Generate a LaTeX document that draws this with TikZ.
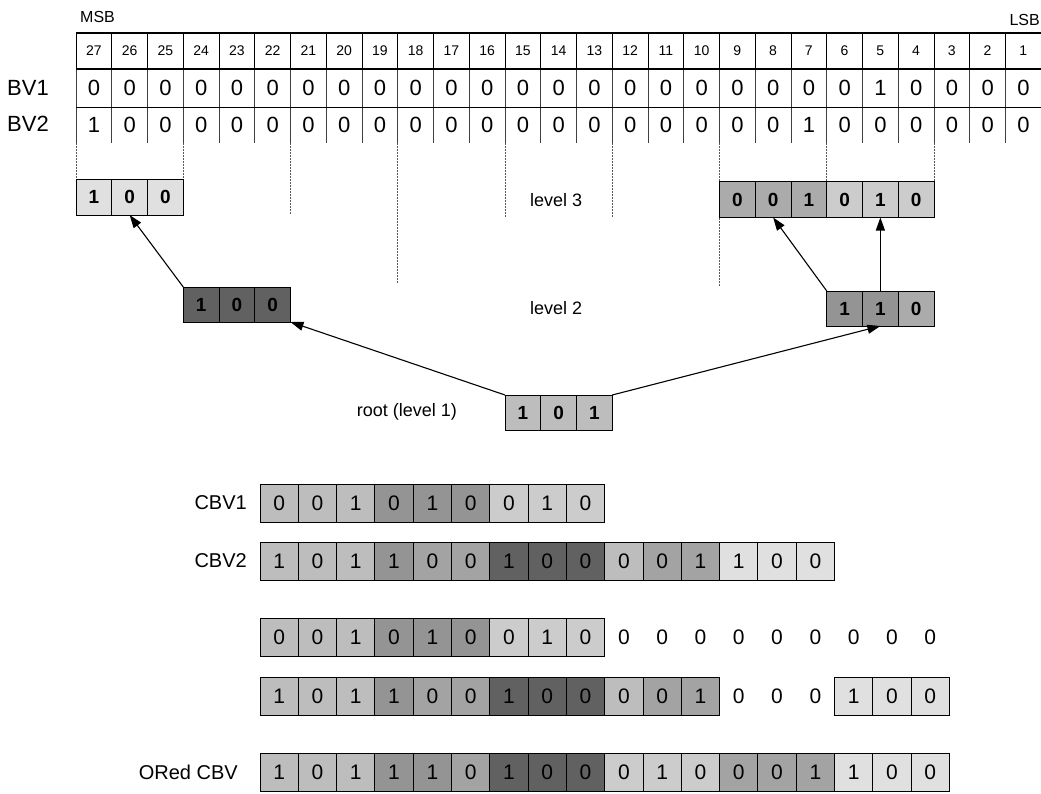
\documentclass[tikz,border=0pt]{standalone}
\usepackage{fontspec}
\setmainfont{Liberation Sans}
\usetikzlibrary{arrows.meta}
\colorlet{g12}{black!12}
\colorlet{g20}{black!20}
\colorlet{g25}{black!26}
\colorlet{g33}{black!33}
\colorlet{g35}{black!36}
\colorlet{g40}{black!42}
\colorlet{g62}{black!62}
\begin{document}
\begin{tikzpicture}[x=1pt,y=-1pt,
  cell/.style={draw=black, line width=0.9pt, minimum width=35.75pt, minimum height=36pt, inner sep=0pt, outer sep=0pt, font=\fontsize{19}{19}\selectfont\bfseries},
  cbv/.style={draw=black, line width=0.9pt, minimum width=38.3pt, minimum height=38pt, inner sep=0pt, outer sep=0pt, font=\fontsize{21}{21}\selectfont},
  zero/.style={inner sep=0pt, font=\fontsize{21}{21}\selectfont},
  hdr/.style={inner sep=0pt, font=\fontsize{14}{14}\selectfont},
  bvd/.style={inner sep=0pt, font=\fontsize{22}{22}\selectfont},
  lab/.style={inner sep=0pt, font=\fontsize{18}{18}\selectfont},
  biglab/.style={inner sep=0pt, font=\fontsize{21}{21}\selectfont},
  arr/.style={-{Triangle[length=13pt,width=9pt]}, line width=1.1pt},
  dotline/.style={black!65, line width=0.8pt, dash pattern=on 1.5pt off 1.5pt}
]
\useasboundingbox (0,0) rectangle (1041,793);
% ---------- top table ----------
\node[lab, anchor=west, font=\fontsize{16}{16}\selectfont] (msb) at (80,17) {MSB};
\node[lab, anchor=east, font=\fontsize{16}{16}\selectfont] (lsb) at (1040,20) {LSB};
\node[biglab, anchor=west, font=\fontsize{22}{22}\selectfont] (bv1) at (7,88) {BV1};
\node[biglab, anchor=west, font=\fontsize{22}{22}\selectfont] (bv2) at (7,124) {BV2};
\foreach \k in {0,...,26}{
  \pgfmathtruncatemacro\n{27-\k}
  \pgfmathtruncatemacro\a{ifthenelse(\n==5,1,0)}
  \pgfmathtruncatemacro\b{ifthenelse(or(\n==27,\n==7),1,0)}
  \node[hdr] (h\n) at ({76+35.75*(\k+0.5)},51) {\n};
  \node[bvd] (bva\n) at ({76+35.75*(\k+0.5)},88) {\a};
  \node[bvd] (bvb\n) at ({76+35.75*(\k+0.5)},125) {\b};
  \draw[line width=1pt] ({76+35.75*\k},33) -- ({76+35.75*\k},69);
  \draw[black!75, line width=0.9pt] ({76+35.75*\k},69) -- ({76+35.75*\k},143);
}
\draw[line width=1.4pt] (76,33) -- (1041,33);
\draw[line width=2.2pt] (76,69) -- (1041,69);
\draw[line width=1pt] (76,107) -- (1041,107);
\foreach \k/\e in {0/179,3/179,6/215,9/283,12/217,15/217,18/287,21/182,24/182}
  \draw[dotline] ({76+35.75*\k},143) -- ({76+35.75*\k},\e);
% ---------- tree ----------
\node[lab, anchor=west] (lv3) at (530,200) {level 3};
\node[lab, anchor=west] (lv2) at (530,308) {level 2};
\node[lab, anchor=east] (lv1) at (457,412) {root (level 1)};
\foreach \i/\v in {1/1,2/0,3/0}
  \node[cell, fill=g12] (lA\i) at ({76+35.75*(\i-0.5)},197) {\v};
\foreach \i/\v/\c in {1/0/g33,2/0/g33,3/1/g33,4/0/g20,5/1/g20,6/0/g20}
  \node[cell, fill=\c] (lB\i) at ({76+35.75*(17.5+\i)},199.5) {\v};
\foreach \i/\v in {1/1,2/0,3/0}
  \node[cell, fill=g62, minimum height=35pt] (mA\i) at ({76+35.75*(2.5+\i)},304.5) {\v};
\foreach \i/\v/\c in {1/1/g40,2/1/g40,3/0/g33}
  \node[cell, fill=\c, minimum height=35pt] (mB\i) at ({76+35.75*(20.5+\i)},308.5) {\v};
\foreach \i/\v in {1/1,2/0,3/1}
  \node[cell, fill=g25, minimum height=35pt] (r\i) at ({76+35.75*(11.5+\i)},412.5) {\v};
\draw[arr] (r1.north west) -- (mA3.south east);
\draw[arr] (r3.north east) -- (mB2.south);
\draw[arr] (mA1.north west) -- (lA2.south);
\draw[arr] (mB1.north west) -- (lB2.south);
\draw[arr] (mB2.north) -- (lB5.south);
% ---------- compressed vectors ----------
\node[biglab, anchor=east, font=\fontsize{20}{20}\selectfont] (cl1) at (247,503) {CBV1};
\node[biglab, anchor=east, font=\fontsize{20}{20}\selectfont] (cl2) at (247,561) {CBV2};
\node[biglab, anchor=east, font=\fontsize{20}{20}\selectfont] (cl5) at (238,772) {ORed CBV};
\foreach \i/\v/\c in {1/0/g25,2/0/g25,3/1/g25,4/0/g40,5/1/g40,6/0/g40,7/0/g20,8/1/g20,9/0/g20}{
  \node[cbv, fill=\c] (c1-\i) at ({260+38.3*(\i-0.5)},503) {\v};
  \node[cbv, fill=\c] (c3-\i) at ({260+38.3*(\i-0.5)},637) {\v};
}
\foreach \i in {10,...,18}
  \node[zero] (c3-\i) at ({260+38.3*(\i-0.5)},637) {0};
\foreach \i/\v/\c in {1/1/g25,2/0/g25,3/1/g25,4/1/g40,5/0/g35,6/0/g35,7/1/g62,8/0/g62,9/0/g62,10/0/g25,11/0/g35,12/1/g35}{
  \node[cbv, fill=\c] (c2-\i) at ({260+38.3*(\i-0.5)},561) {\v};
  \node[cbv, fill=\c] (c4-\i) at ({260+38.3*(\i-0.5)},696) {\v};
}
\foreach \i/\v in {13/1,14/0,15/0}
  \node[cbv, fill=g12] (c2-\i) at ({260+38.3*(\i-0.5)},561) {\v};
\foreach \i in {13,14,15}
  \node[zero] (c4-\i) at ({260+38.3*(\i-0.5)},696) {0};
\foreach \i/\v in {16/1,17/0,18/0}
  \node[cbv, fill=g12] (c4-\i) at ({260+38.3*(\i-0.5)},696) {\v};
\foreach \i/\v/\c in {1/1/g25,2/0/g25,3/1/g25,4/1/g40,5/1/g40,6/0/g35,7/1/g62,8/0/g62,9/0/g62,10/0/g20,11/1/g20,12/0/g20,13/0/g35,14/0/g35,15/1/g35,16/1/g12,17/0/g12,18/0/g12}
  \node[cbv, fill=\c] (c5-\i) at ({260+38.3*(\i-0.5)},772) {\v};
\end{tikzpicture}
\end{document}
